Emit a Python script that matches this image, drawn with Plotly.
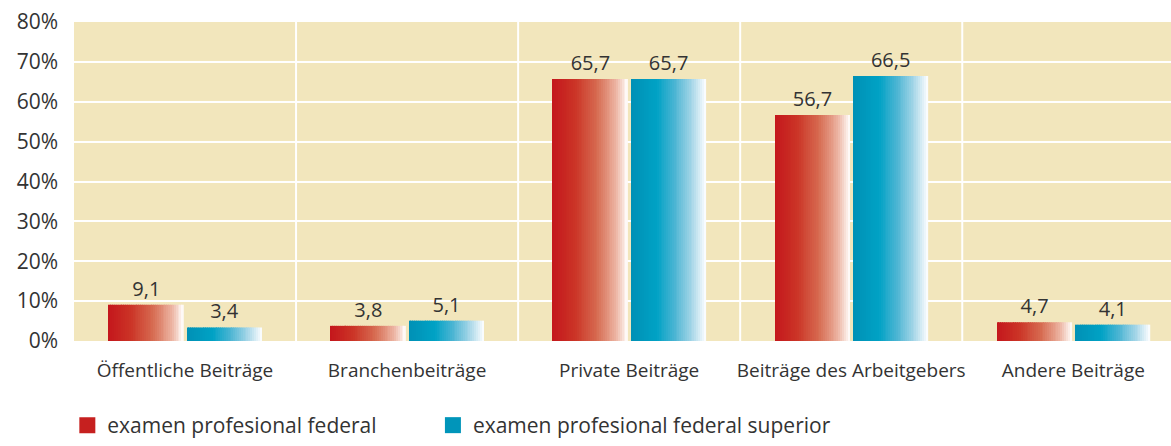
import plotly.graph_objs as go

categories = ['Öffentliche Beiträge', 'Branchenbeiträge', 'Private Beiträge',
              'Beiträge des Arbeitgebers', 'Andere Beiträge']
epf = [9.1, 3.8, 65.7, 56.7, 4.7]
epfs = [3.4, 5.1, 65.7, 66.5, 4.1]
series_names = ['examen profesional federal', 'examen profesional federal superior']
y_ticks = [0, 10, 20, 30, 40, 50, 60, 70, 80]
y_ticktext = ['%d%%' % v for v in y_ticks]

# gradient stops (position, rgb) left -> right
red_stops = [(0.0, (196, 22, 28)), (0.3, (203, 52, 38)), (0.6, (215, 108, 82)),
             (0.85, (236, 180, 162)), (0.97, (252, 240, 235)), (1.0, (255, 255, 255))]
blue_stops = [(0.0, (0, 144, 181)), (0.35, (0, 162, 197)), (0.6, (80, 182, 212)),
              (0.85, (180, 220, 235)), (0.97, (240, 248, 252)), (1.0, (255, 255, 255))]


def grad_color(stops, t):
    for (p0, c0), (p1, c1) in zip(stops[:-1], stops[1:]):
        if p0 <= t <= p1:
            f = (t - p0) / (p1 - p0)
            c = [round(a + (b - a) * f) for a, b in zip(c0, c1)]
            return 'rgb(%d,%d,%d)' % tuple(c)
    return 'rgb(%d,%d,%d)' % stops[-1][1]


fig = go.Figure()

bar_w = 0.337
n_slices = 40
series = [(epf, red_stops, -0.343, series_names[0], 'legend'),
          (epfs, blue_stops, 0.009, series_names[1], 'legend2')]

for vals, stops, start, name, leg in series:
    sw = bar_w / n_slices
    for i in range(n_slices):
        fig.add_trace(go.Bar(
            x=categories, y=vals,
            width=sw * 1.05, offset=start + i * sw,
            marker=dict(color=grad_color(stops, (i + 0.5) / n_slices), line=dict(width=0)),
            showlegend=False, hoverinfo='skip'))
    # value labels
    fig.add_trace(go.Bar(
        x=categories, y=vals, width=bar_w, offset=start,
        marker=dict(color='rgba(0,0,0,0)', line=dict(width=0)),
        texttemplate='%{y:.1f}', textposition='outside', cliponaxis=False,
        textfont=dict(size=20, color='#333333'),
        showlegend=False))
    # legend entry
    fig.add_trace(go.Scatter(
        x=[None], y=[None], mode='markers', name=name, legend=leg,
        marker=dict(symbol='square', size=16, color=grad_color(stops, 0.1))))

legend_style = dict(orientation='h', xref='container', y=0.0, yref='container',
                    xanchor='left', yanchor='bottom', font=dict(size=21, color='#333333'),
                    itemsizing='trace', bgcolor='rgba(0,0,0,0)')

fig.update_layout(
    width=1171, height=446,
    margin=dict(l=74, r=0, t=22, b=105),
    paper_bgcolor='white', plot_bgcolor='#f2e6bc',
    separators=',.',
    barmode='overlay',
    font=dict(family='Open Sans', color='#333333'),
    showlegend=True,
    legend=dict(x=0.0575, **legend_style),
    legend2=dict(x=0.3697, **legend_style),
    xaxis=dict(range=[-0.5, 4.44], showgrid=False, tickfont=dict(size=19),
               ticks='', ticklabelstandoff=16, fixedrange=True),
    yaxis=dict(range=[0, 80.02], tickmode='array', tickvals=y_ticks, ticktext=y_ticktext,
               showgrid=True, gridcolor='white', gridwidth=1.5, zeroline=False,
               tickfont=dict(size=21), ticklabelstandoff=15),
)

# white separators between categories
for k in range(1, len(categories)):
    fig.add_vline(x=k - 0.5, line=dict(color='white', width=2), layer='below')

# drop the default 8px page margin so the figure fills the window
fig.write_html("out.html", config={'displayModeBar': False},
               post_script="document.body.style.margin='0';")
